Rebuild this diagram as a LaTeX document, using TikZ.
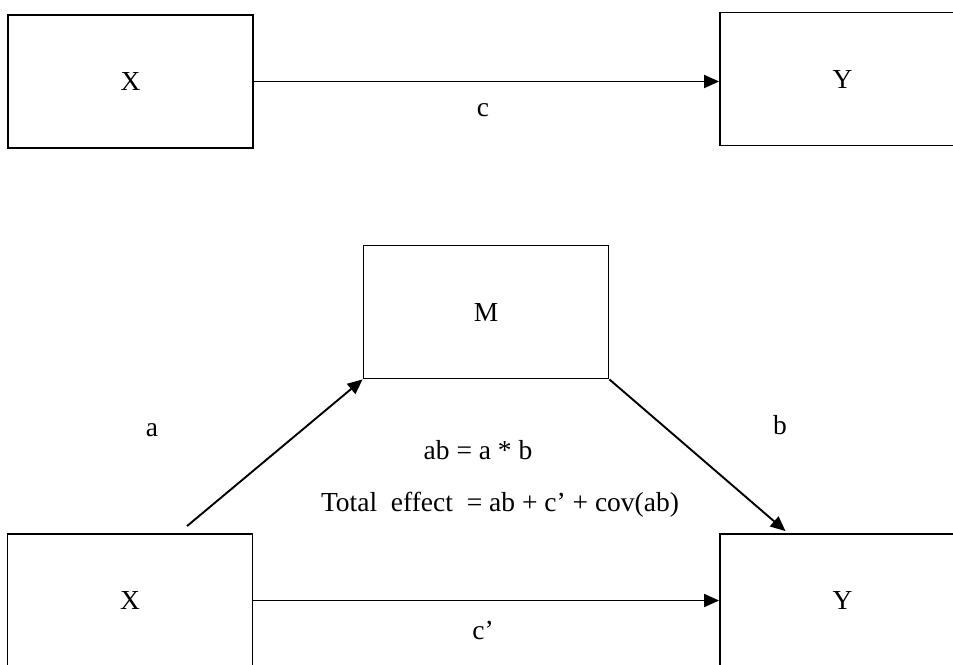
\documentclass[tikz,border=0pt]{standalone}
\usepackage{fontspec}
\setmainfont{Liberation Serif}
\usepackage{tikz}
\usetikzlibrary{positioning, arrows.meta, calc}

\begin{document}
\begin{tikzpicture}[
  x=1pt, y=-1pt,
  font=\fontsize{27.5}{32}\selectfont,
  var/.style={draw, rectangle, line width=1.8pt, minimum width=245pt,
    minimum height=133pt, inner sep=0pt, fill=white},
  rel/.style={-{Triangle[length=15pt, width=13pt]}, line width=1.9pt},
  lbl/.style={inner sep=0pt, anchor=center},
]
  \useasboundingbox (0,0) rectangle (953,664);

  % Total effect model
  \node[var] (x1) at (130.5,81.5) {X};
  \node[var] (y1) at (842.5,79) {Y};

  % Mediation model
  \node[var] (m)  at (486,312) {M};
  \node[var] (x2) at (130,600.5) {X};
  \node[var] (y2) at (842.5,600.5) {Y};

  % Paths
  \draw[rel] (x1.east) -- (x1.east -| y1.west);
  \draw[rel] ([shift={(57pt,7pt)}]x2.north) -- (m.south west);
  \draw[rel] (m.south east) -- ([shift={(-57pt,2pt)}]y2.north);
  \draw[rel] (x2.east) -- (x2.east -| y2.west);

  % Path labels
  \node[lbl] (lc)  at (483,110) {c};
  \node[lbl] (la)  at (152,430) {a};
  \node[lbl] (lb)  at (780,425) {b};
  \node[lbl] (lcp) at (483,630) {c'};
  \node[lbl] (ind) at (478,450) {ab = a * b};
  \node[lbl] (tot) at (500,505) {Total\ \ effect\ \ = ab + c' + cov(ab)};
\end{tikzpicture}
\end{document}
